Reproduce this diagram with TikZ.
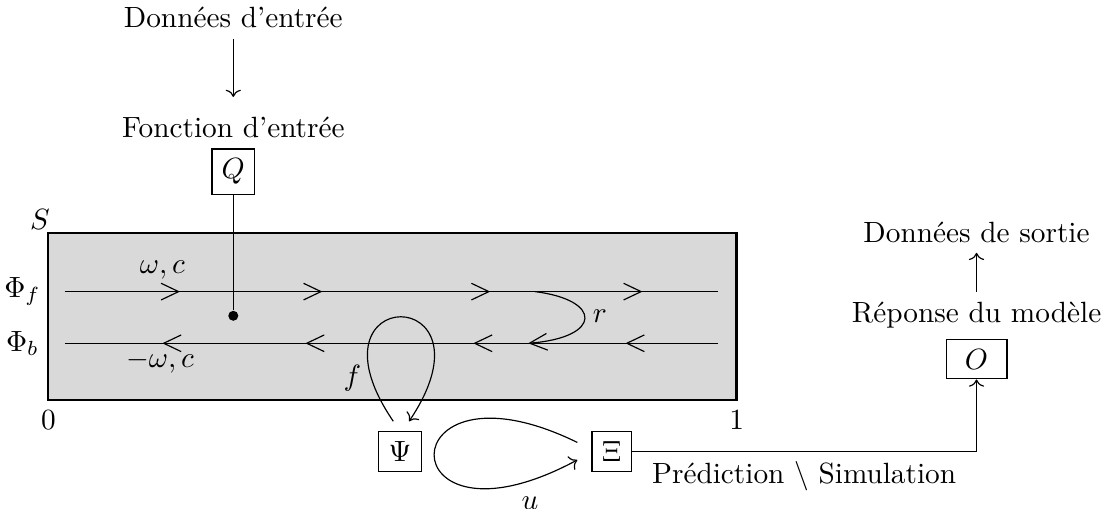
\documentclass[tikz,border=0pt]{standalone}
\usepackage{amsmath}
\usetikzlibrary{arrows.meta,positioning,decorations.markings,calc}

\begin{document}
\begin{tikzpicture}[
  box/.style={draw,inner sep=3.33pt},
  chev/.tip={Straight Barb[length=2.1mm,width=2mm]},
  fwd/.style={postaction={decorate},decoration={markings,
    mark=at position 0.176 with {\arrow{chev}},
    mark=at position 0.394 with {\arrow{chev}},
    mark=at position 0.651 with {\arrow{chev}},
    mark=at position 0.884 with {\arrow{chev}}}},
  bwd/.style={postaction={decorate},decoration={markings,
    mark=at position 0.142 with {\arrow{chev}},
    mark=at position 0.375 with {\arrow{chev}},
    mark=at position 0.632 with {\arrow{chev}},
    mark=at position 0.851 with {\arrow{chev}}}}]
\useasboundingbox (-0.58,-1.3) rectangle (12.85,4.8);
% domaine
\draw[thick,fill=gray!30] (0,0) rectangle (8.26,2.0);
\node at (-0.1,2.16) (S) {$S$};
\node[below] at (0,0) (x0) {$0$};
\node[below] at (8.26,0) (x1) {$1$};
% flux aller et retour
\node at (-0.31,1.3) (phif) {$\Phi_f$};
\node at (-0.31,0.68) (phib) {$\Phi_b$};
\coordinate (fa) at (0.2,1.3); \coordinate (fb) at (8.04,1.3);
\coordinate (ba) at (8.04,0.68); \coordinate (bb) at (0.2,0.68);
\draw[fwd] (fa) -- (fb);
\draw[bwd] (ba) -- (bb);
\node at (1.37,1.56) (wc) {$\omega, c$};
\node at (1.34,0.46) (mwc) {$-\omega, c$};
% entree
\node[box] at (2.22,2.74) (Q) {$Q$};
\node[above=0pt of Q] (fin) {Fonction d'entrée};
\node[above=0.82cm of fin] (din) {Données d'entrée};
\draw[->,shorten >=0.12cm] (din) -- (fin);
\node[circle,fill,inner sep=0pt,minimum size=0.12cm] at (2.22,1.01) (dot) {};
\draw (Q) -- (dot);
% reflexion
\coordinate (r1) at (5.84,1.3); \coordinate (r2) at (5.76,0.68);
\draw[-chev] (r1) .. controls (6.65,1.2) and (6.65,0.75) .. (r2);
\node at (6.62,1.01) (r) {$r$};
% modele
\node[box] at (4.22,-0.62) (Psi) {$\Psi$};
\node[box] at (6.76,-0.62) (Xi) {$\Xi$};
\draw[->] ([xshift=-0.08cm,yshift=0.12cm]Psi.north) .. controls +(-1.14,1.67) and +(1.12,1.67) .. ([xshift=0.11cm,yshift=0.12cm]Psi.north);
\node at (3.65,0.26) (f) {$f$};
\draw[->] ([xshift=-0.17cm,yshift=0.11cm]Xi.west) .. controls +(-2.29,1.12) and +(-2.29,-1.23) .. ([xshift=-0.17cm,yshift=-0.1cm]Xi.west);
\node at (5.78,-1.24) (u) {$u$};
% sortie
\node[box,minimum width=0.73cm] at (11.14,0.49) (O) {$O$};
\node[above=0pt of O] (rep) {Réponse du modèle};
\node[above=0.47cm of rep] (dout) {Données de sortie};
\draw[->] (rep) -- (dout);
\draw[->] (Xi) -| node[below,pos=0.25] (pred) {Prédiction $\backslash$ Simulation} (O);
\end{tikzpicture}
\end{document}
